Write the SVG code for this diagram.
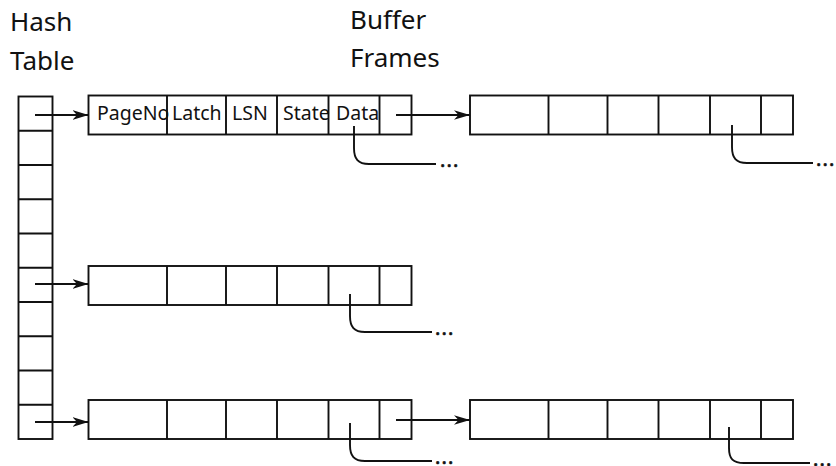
<svg xmlns="http://www.w3.org/2000/svg" width="836" height="466" viewBox="0 0 836 466">
<style>
.box{fill:#fff;stroke:#111;stroke-width:1.9}
.ln{fill:none;stroke:#111;stroke-width:1.9}
.lbl{font-family:"Noto Sans","Open Sans",sans-serif;font-size:26px;fill:#111}
.cell{font-family:"Noto Sans","Open Sans",sans-serif;font-size:19.5px;fill:#111}
.dots{font-family:"Noto Sans","Open Sans",sans-serif;font-size:20px;letter-spacing:1.2px;fill:#111;stroke:#111;stroke-width:0.6}
.arr{fill:none;stroke:#111;stroke-width:1.9;marker-end:url(#ah)}
</style>
<defs>
<marker id="ah" markerUnits="userSpaceOnUse" markerWidth="16" markerHeight="12" viewBox="0 0 16 12" refX="16" refY="6" orient="auto">
<path d="M0,1.2 L16,6 L0,10.8 L4.5,6 z" fill="#111"/>
</marker>
<g id="frameShape">
<rect class="box" x="0" y="0" width="323" height="39"/>
<path class="ln" d="M78.5,0 V39 M137.5,0 V39 M188.5,0 V39 M240,0 V39 M291,0 V39"/>
</g>
</defs>
<rect width="836" height="466" fill="#fff"/>

<g id="title-hash">
<text class="lbl" x="10" y="31">Hash</text>
<text class="lbl" x="10" y="70">Table</text>
</g>
<g id="title-buffer">
<text class="lbl" x="350" y="29">Buffer</text>
<text class="lbl" x="350" y="67">Frames</text>
</g>

<g id="hash-table">
<rect class="box" x="18.5" y="96.5" width="34" height="342.5"/>
<path class="ln" d="M18.5,130.75 H52.5 M18.5,165 H52.5 M18.5,199.25 H52.5 M18.5,233.5 H52.5 M18.5,267.75 H52.5 M18.5,302 H52.5 M18.5,336.25 H52.5 M18.5,370.5 H52.5 M18.5,404.75 H52.5"/>
</g>

<g id="frame1">
<use href="#frameShape" x="88.5" y="95.5"/>
<text class="cell" x="97" y="120">PageNo</text>
<text class="cell" x="172" y="120">Latch</text>
<text class="cell" x="232" y="120">LSN</text>
<text class="cell" x="283" y="120">State</text>
<text class="cell" x="336" y="120">Data</text>
</g>
<g id="frame2">
<use href="#frameShape" x="88.5" y="266"/>
</g>
<g id="frame3">
<use href="#frameShape" x="88.5" y="400"/>
</g>
<g id="frame4">
<use href="#frameShape" x="470" y="95.5"/>
</g>
<g id="frame5">
<use href="#frameShape" x="470" y="400"/>
</g>

<g id="connectors">
<path class="arr" d="M35,115 H88.5"/>
<path class="arr" d="M35,284 H88.5"/>
<path class="arr" d="M35,422 H88.5"/>
<path class="arr" d="M396,115 H470"/>
<path class="arr" d="M396,420 H470"/>
<path class="ln" d="M354,126 V148 C354,159 358,164 369,164 H436"/>
<path class="ln" d="M350,294 V316 C350,327 354,332 365,332 H432"/>
<path class="ln" d="M350,423 V445 C350,456 354,461 365,461 H432"/>
<path class="ln" d="M732,125 V147 C732,158 736,163 747,163 H813"/>
<path class="ln" d="M729,427 V448 C729,459 733,463 744,463 H810"/>
</g>
<g id="ellipses">
<text class="dots" x="440" y="167">...</text>
<text class="dots" x="435" y="335">...</text>
<text class="dots" x="435" y="464">...</text>
<text class="dots" x="816" y="166">...</text>
<text class="dots" x="813" y="466">...</text>
</g>
</svg>
